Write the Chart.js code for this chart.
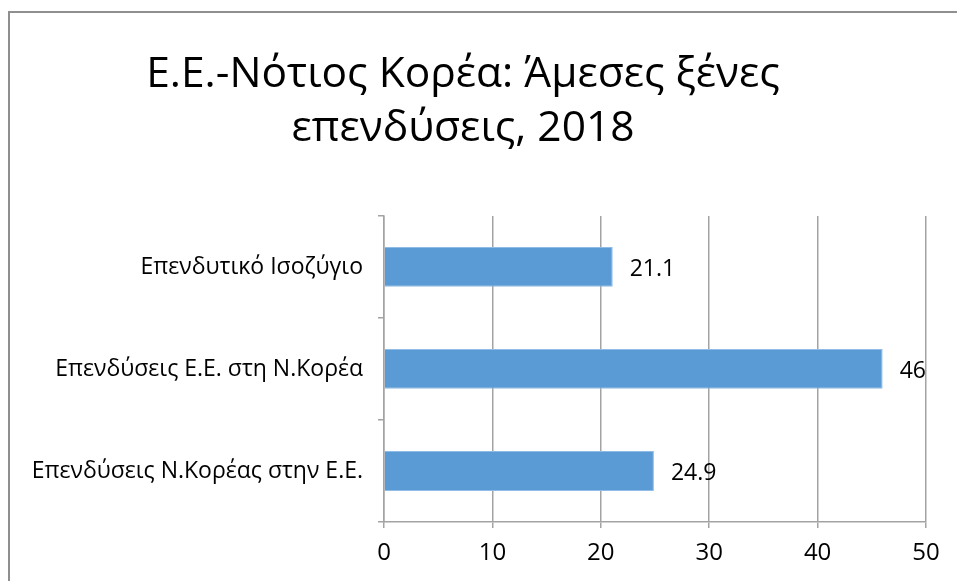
<!DOCTYPE html>
<html>
<head>
<meta charset="utf-8">
<script src="https://cdn.jsdelivr.net/npm/chart.js@4/dist/chart.umd.min.js"></script>
<style>
    body { margin: 0; background: #fff; }
    #frame {
        position: absolute; left: 8px; top: 11px; width: 960px; height: 600px;
        border-top: 2px solid #8f8f8f; border-left: 2px solid #8f8f8f;
    }
    #wrap { position: absolute; left: 0; top: 0; width: 957px; height: 581px; }
</style>
</head>
<body>
<div id="frame"></div>
<div id="wrap"><canvas id="barChart" width="957" height="581"></canvas></div>
<script>
// Chart data
const titleLines = ['Ε.Ε.-Νότιος Κορέα: Άμεσες ξένες', 'επενδύσεις, 2018'];
const categories = ['Επενδυτικό Ισοζύγιο', 'Επενδύσεις Ε.Ε. στη Ν.Κορέα', 'Επενδύσεις Ν.Κορέας στην Ε.Ε.'];
const values = [21.1, 46, 24.9];
const axisMin = 0;
const axisMax = 50;
const axisStep = 10;

const fontFamily = "'Open Sans', 'Noto Sans', sans-serif";
const gridColor = '#a3a3a3';

// Value labels next to each bar
const valueLabels = {
    id: 'valueLabels',
    afterDatasetsDraw(chart) {
        const ctx = chart.ctx;
        ctx.save();
        ctx.font = `23px ${fontFamily}`;
        ctx.fillStyle = '#000';
        ctx.textAlign = 'left';
        ctx.textBaseline = 'middle';
        chart.getDatasetMeta(0).data.forEach((bar, i) => {
            ctx.fillText(String(values[i]), bar.x + 17, bar.y + 2);
        });
        ctx.restore();
    }
};

const ctx = document.getElementById('barChart').getContext('2d');
new Chart(ctx, {
    type: 'bar',
    data: {
        labels: categories,
        datasets: [{
            data: values,
            backgroundColor: '#5b9bd5',
            borderColor: '#8fbce6',
            borderWidth: 1,
            barPercentage: 1,
            categoryPercentage: 0.39
        }]
    },
    options: {
        indexAxis: 'y',
        responsive: false,
        animation: false,
        layout: { padding: { top: 48, right: 31, left: 0, bottom: 0 } },
        plugins: {
            legend: { display: false },
            tooltip: { enabled: false },
            title: {
                display: true,
                text: titleLines,
                color: '#000',
                font: { family: fontFamily, size: 42.5, weight: 'normal', lineHeight: 1.27 },
                padding: { top: 0, bottom: 60 }
            }
        },
        scales: {
            x: {
                min: axisMin,
                max: axisMax,
                afterFit: (scale) => { scale.height = 59; },
                ticks: {
                    stepSize: axisStep,
                    color: '#000',
                    padding: 11,
                    font: { family: fontFamily, size: 24 }
                },
                grid: { color: gridColor, lineWidth: 1.5, tickLength: 6 },
                border: { color: gridColor, width: 1.5 }
            },
            y: {
                afterFit: (scale) => { scale.width = 384; },
                ticks: {
                    color: '#000',
                    padding: 15,
                    font: { family: fontFamily, size: 23 }
                },
                grid: { offset: true, drawOnChartArea: false, color: gridColor, lineWidth: 1.5, tickLength: 6 },
                border: { color: gridColor, width: 1.5 }
            }
        }
    },
    plugins: [valueLabels]
});
</script>
</body>
</html>
